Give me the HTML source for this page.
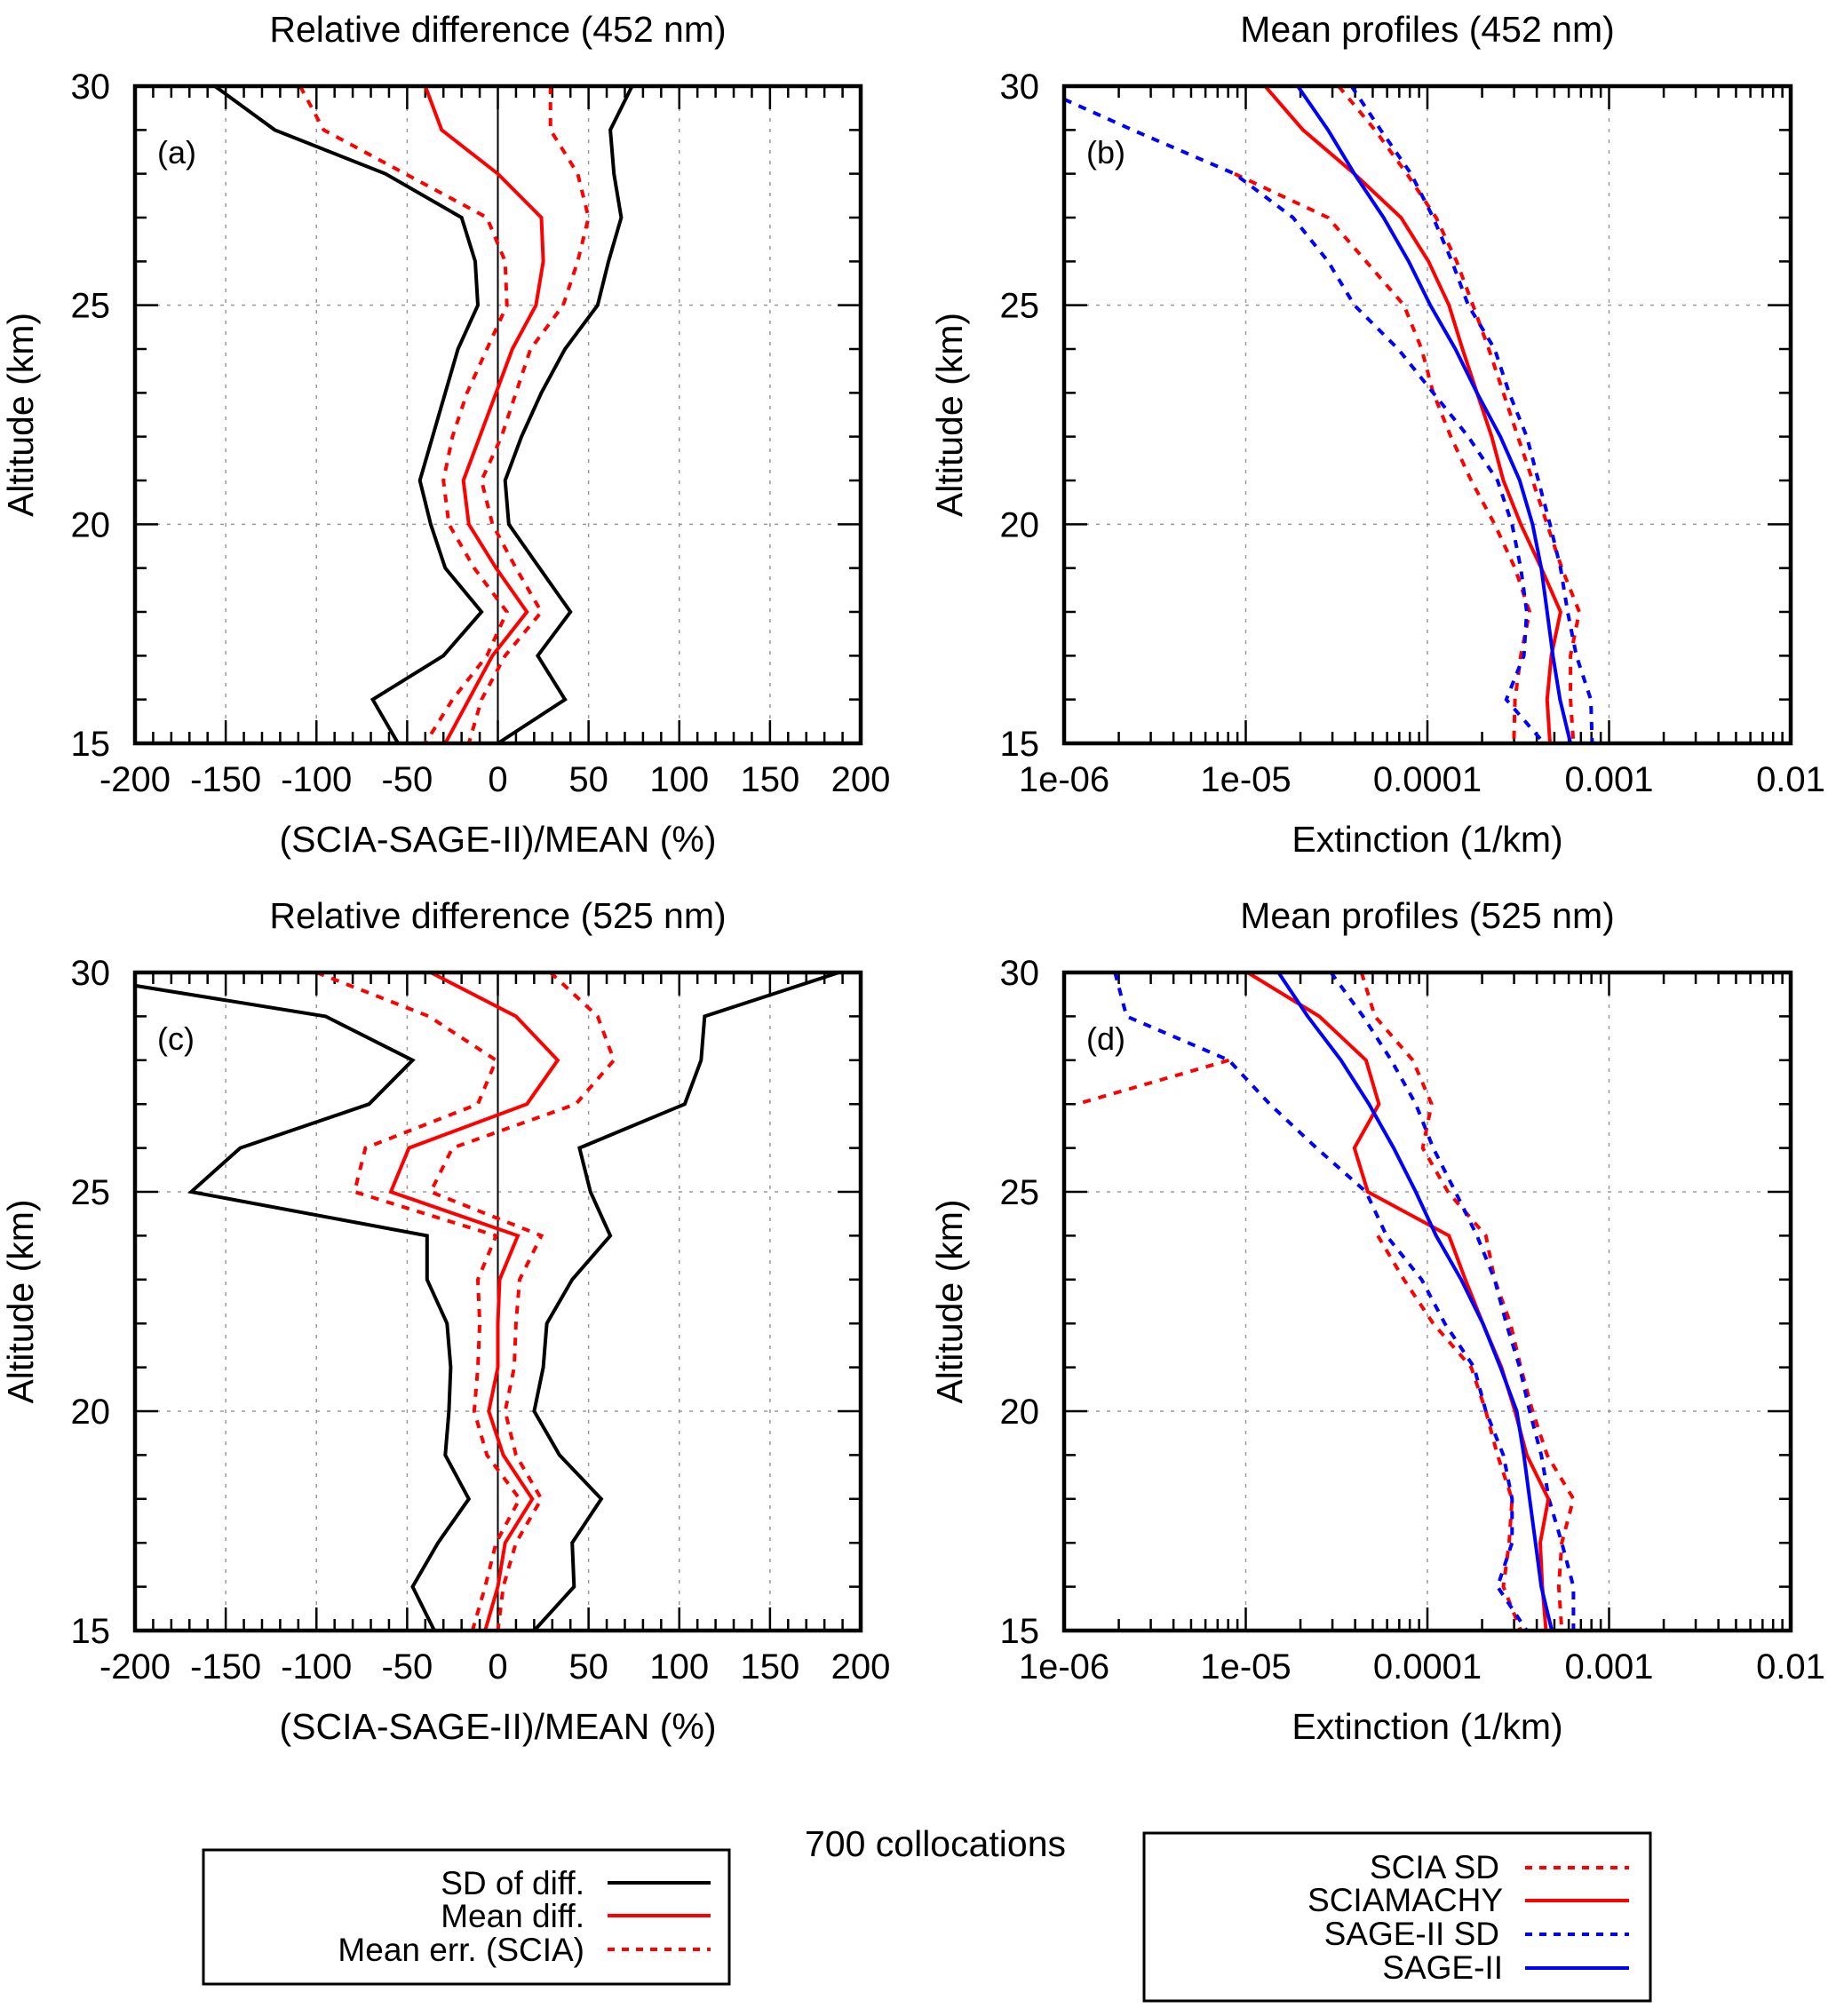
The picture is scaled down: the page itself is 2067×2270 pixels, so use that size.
<!DOCTYPE html>
<html><head><meta charset="utf-8">
<style>
html,body{margin:0;padding:0;background:#fff;}
svg{display:block;font-family:"Liberation Sans",Arial,sans-serif;}
</style></head>
<body>
<svg id="fig" width="2067" height="2270" viewBox="0 0 2067 2270" xmlns="http://www.w3.org/2000/svg">
<rect width="2067" height="2270" fill="#fff"/>
<g id="layer"></g>
<text x="1053" y="2090" font-size="41" text-anchor="middle">700 collocations</text>
<g>
<rect x="229" y="2083" width="592" height="151" fill="none" stroke="#000" stroke-width="3"/>
<text x="658" y="2133" font-size="37" text-anchor="end">SD of diff.</text>
<line x1="684" y1="2120" x2="800" y2="2120" stroke="#000" stroke-width="4"/>
<text x="658" y="2170" font-size="37" text-anchor="end">Mean diff.</text>
<line x1="684" y1="2157" x2="800" y2="2157" stroke="#f00" stroke-width="4"/>
<text x="658" y="2208" font-size="37" text-anchor="end">Mean err. (SCIA)</text>
<line x1="684" y1="2195" x2="800" y2="2195" stroke="#f00" stroke-width="4" stroke-dasharray="8,8"/>
</g>
<g>
<rect x="1288" y="2064" width="570" height="189" fill="none" stroke="#000" stroke-width="3"/>
<text x="1688" y="2115" font-size="37" text-anchor="end">SCIA SD</text>
<line x1="1717" y1="2103" x2="1834" y2="2103" stroke="#f00" stroke-width="4" stroke-dasharray="8,8"/>
<text x="1692" y="2152" font-size="37" text-anchor="end">SCIAMACHY</text>
<line x1="1717" y1="2140" x2="1834" y2="2140" stroke="#f00" stroke-width="4"/>
<text x="1688" y="2190" font-size="37" text-anchor="end">SAGE-II SD</text>
<line x1="1717" y1="2178" x2="1834" y2="2178" stroke="#00f" stroke-width="4" stroke-dasharray="8,8"/>
<text x="1692" y="2228" font-size="37" text-anchor="end">SAGE-II</text>
<line x1="1717" y1="2216" x2="1834" y2="2216" stroke="#00f" stroke-width="4"/>
</g>
</svg>
<script>
const altitudes=[30,29,28,27,26,25,24,23,22,21,20,19,18,17,16,15];
// panel (a) relative difference 452 nm (%)
const a_sdLeft=[-156,-123,-62,-20,-12.5,-11,-22,-29,-36,-43,-37,-29,-9,-30,-69,-55];
const a_sdRight=[74,62,64,68,61,55,37,24,13,4,6,23,40,22,37,0];
const a_mean=[-40,-31,0,24,25,21,8,-1,-10,-19,-16,-1,16,-3,-16,-29];
const a_errLeft=[-109,-96,-51,-6,4,5,-6,-17,-25,-30,-27,-13,5,-6,-25,-40];
const a_errRight=[29,29,44,50,44,36,18,10,2,-9,-3,10,24,4,-9,-16];
// panel (c) relative difference 525 nm (%)
const c_sdLeft=[-245,-95,-47,-71,-142,-169,-39,-39,-28,-26,-27,-29,-16,-33,-47,-35];
const c_sdRight=[188,114,112,103,45,51,62,41,27,25,20,34,57,41,42,20];
const c_mean=[-37,10,33,16,-49,-59,11,1,0,0,-5,3,19,4,0,-7];
const c_errLeft=[-100,-38,-1,-11,-73,-79,-1,-11,-10,-11,-13,-6,12,-1,-7,-14];
const c_errRight=[29,55,64,43,-25,-37,24,12,10,9,4,10,24,10,3,0];
// panel (b) log10 extinction 452 nm
const b_scia=[-4.894,-4.685,-4.402,-4.145,-3.994,-3.881,-3.807,-3.727,-3.646,-3.582,-3.486,-3.373,-3.267,-3.318,-3.341,-3.325];
const b_sage=[-4.714,-4.547,-4.402,-4.241,-4.103,-3.984,-3.846,-3.727,-3.598,-3.492,-3.421,-3.373,-3.341,-3.309,-3.270,-3.212];
const b_sciaSdHi=[-4.489,-4.289,-4.113,-3.952,-3.839,-3.749,-3.662,-3.582,-3.502,-3.421,-3.341,-3.260,-3.164,-3.212,-3.212,-3.196];
const b_sageSdHi=[-4.418,-4.257,-4.090,-3.968,-3.865,-3.775,-3.630,-3.550,-3.453,-3.389,-3.325,-3.267,-3.228,-3.180,-3.100,-3.093];
const b_sciaSdLo=[null,null,-5.061,-4.547,-4.338,-4.129,-4.032,-3.968,-3.871,-3.759,-3.630,-3.518,-3.437,-3.486,-3.518,-3.524];
const b_sageSdLo=[-6.161,-5.624,-5.061,-4.740,-4.547,-4.402,-4.161,-3.968,-3.775,-3.614,-3.534,-3.486,-3.453,-3.469,-3.566,-3.357];
// panel (d) log10 extinction 525 nm
const d_scia=[-4.990,-4.595,-4.338,-4.267,-4.402,-4.328,-3.881,-3.791,-3.695,-3.592,-3.518,-3.453,-3.334,-3.379,-3.367,-3.347];
const d_sage=[-4.820,-4.659,-4.476,-4.322,-4.186,-4.064,-3.952,-3.814,-3.695,-3.598,-3.508,-3.469,-3.437,-3.405,-3.373,-3.315];
const d_sciaSdHi=[-4.363,-4.289,-4.080,-3.977,-4.026,-3.887,-3.678,-3.630,-3.543,-3.486,-3.421,-3.341,-3.196,-3.260,-3.277,-3.260];
const d_sageSdHi=[-4.531,-4.354,-4.199,-4.064,-3.968,-3.846,-3.727,-3.630,-3.566,-3.492,-3.437,-3.373,-3.331,-3.260,-3.196,-3.196];
const d_sciaSdLo=[null,null,-5.093,-5.93,null,null,-4.273,-4.129,-3.968,-3.759,-3.678,-3.614,-3.534,-3.550,-3.582,-3.486];
const d_sageSdLo=[-5.720,-5.656,-5.093,-4.868,-4.611,-4.338,-4.225,-4.032,-3.904,-3.743,-3.678,-3.582,-3.534,-3.534,-3.614,-3.453];
const linTicks=[-200,-150,-100,-50,0,50,100,150,200];
const logTicks=["1e-06","1e-05","0.0001","0.001","0.01"];
const altTicks=[15,20,25,30];

const NS="http://www.w3.org/2000/svg";
const layer=document.getElementById('layer');
function mk(tag,attrs,parent){const e=document.createElementNS(NS,tag);for(const k in attrs)e.setAttribute(k,attrs[k]);(parent||layer).appendChild(e);return e;}

function panel(opt){
  const L=opt.x0,R=opt.x1,T=opt.y0,B=opt.y1;
  const g=mk('g',{});
  
  
  const xs=opt.log?(v=>L+(v-(-6))/4*(R-L)):(v=>L+(v+200)/400*(R-L));
  const ys=a=>T+(30-a)/15*(B-T);
  const cid='clip-'+opt.name;
  const cp=mk('clipPath',{id:cid},g);mk('rect',{x:L,y:T,width:R-L,height:B-T},cp);
  if(opt.log){for(let d=-5;d<=-3;d++){const gl=mk('line',{x1:xs(d),x2:xs(d),y1:T,y2:B,stroke:'#999','stroke-width':1.5,'stroke-dasharray':'4,8'},g);}}
  else{for(const t of linTicks){if(t===-200||t===200||t===0)continue;const gl=mk('line',{x1:xs(t),x2:xs(t),y1:T,y2:B,stroke:'#999','stroke-width':1.5,'stroke-dasharray':'4,8'},g);}}
  for(const a of [20,25]){const gl=mk('line',{x1:L,x2:R,y1:ys(a),y2:ys(a),stroke:'#999','stroke-width':1.5,'stroke-dasharray':'4,8'},g);}
  if(!opt.log){const z=mk('line',{x1:xs(0),x2:xs(0),y1:T,y2:B,stroke:'#000','stroke-width':2},g);}
  let tp='';
  for(let a=15;a<=30;a++){const len=(a%5===0)?26:13;const y=ys(a);tp+=`M${L},${y}h${len}M${R},${y}h${-len}`;}
  if(opt.log){for(let d=-6;d<-2;d++){for(let m=1;m<=9;m++){const x=xs(d+Math.log10(m));const len=m===1?26:13;tp+=`M${x},${B}v${-len}M${x},${T}v${len}`;}}tp+=`M${R},${B}v-26M${R},${T}v26`;}
  else{for(let v=-200;v<=200;v+=10){const x=xs(v);const len=(v%50===0)?26:13;tp+=`M${x},${B}v${-len}M${x},${T}v${len}`;}}
  const tk=mk('path',{d:tp,stroke:'#000','stroke-width':2.5,fill:'none'},g);
  
  for(const s of opt.series){
    let d='',pen=false;
    for(let i=0;i<altitudes.length;i++){const v=s.vals[i];if(v===null||v===undefined){pen=false;continue;}d+=(pen?'L':'M')+xs(v).toFixed(1)+','+ys(altitudes[i]).toFixed(1);pen=true;}
    const p=mk('path',{d:d,fill:'none',stroke:s.color,'stroke-width':4,'stroke-linejoin':'miter','clip-path':`url(#${cid})`},g);
    if(s.dash)p.setAttribute('stroke-dasharray','9,9');
    
    
  }
  const fr=mk('rect',{x:L,y:T,width:R-L,height:B-T,fill:'none',stroke:'#000','stroke-width':4.5},g);
  
  for(const a of altTicks){const t=mk('text',{x:L-28,y:ys(a)+14,'font-size':40,'text-anchor':'end'},g);t.textContent=a;}
  if(opt.log){logTicks.forEach((lab,i)=>{const t=mk('text',{x:xs(-6+i),y:B+54,'font-size':40,'text-anchor':'middle'},g);t.textContent=lab;});}
  else{for(const v of linTicks){const t=mk('text',{x:xs(v),y:B+54,'font-size':40,'text-anchor':'middle'},g);t.textContent=v;}}
  const cx=(L+R)/2;
  const ti=mk('text',{x:cx,y:T-50,'font-size':41,'text-anchor':'middle'},g);ti.textContent=opt.title;
  const xt=mk('text',{x:cx,y:B+122,'font-size':41,'text-anchor':'middle'},g);xt.textContent=opt.xlabel;
  const yx=L-115,yy=(T+B)/2;
  const yt=mk('text',{x:yx,y:yy,'font-size':41,'text-anchor':'middle',transform:`rotate(-90 ${yx} ${yy})`},g);yt.textContent='Altitude (km)';
  const pl=mk('text',{x:L+25,y:T+87,'font-size':36},g);pl.textContent=opt.label;
}
panel({name:'panel-a',x0:152,x1:969,y0:97,y1:837,log:false,title:'Relative difference (452 nm)',xlabel:'(SCIA-SAGE-II)/MEAN (%)',label:'(a)',
 series:[{name:'sd-diff-left',vals:a_sdLeft,color:'#000'},{name:'sd-diff-right',vals:a_sdRight,color:'#000'},{name:'mean-diff',vals:a_mean,color:'#f00'},{name:'mean-err-left',vals:a_errLeft,color:'#f00',dash:1},{name:'mean-err-right',vals:a_errRight,color:'#f00',dash:1}]});
panel({name:'panel-b',x0:1198,x1:2016,y0:97,y1:837,log:true,title:'Mean profiles (452 nm)',xlabel:'Extinction (1/km)',label:'(b)',
 series:[{name:'scia-sd-low',vals:b_sciaSdLo,color:'#f00',dash:1},{name:'scia-sd-high',vals:b_sciaSdHi,color:'#f00',dash:1},{name:'sage-sd-low',vals:b_sageSdLo,color:'#00f',dash:1},{name:'sage-sd-high',vals:b_sageSdHi,color:'#00f',dash:1},{name:'sciamachy-mean',vals:b_scia,color:'#f00'},{name:'sage-mean',vals:b_sage,color:'#00f'}]});
panel({name:'panel-c',x0:152,x1:969,y0:1095,y1:1836,log:false,title:'Relative difference (525 nm)',xlabel:'(SCIA-SAGE-II)/MEAN (%)',label:'(c)',
 series:[{name:'sd-diff-left',vals:c_sdLeft,color:'#000'},{name:'sd-diff-right',vals:c_sdRight,color:'#000'},{name:'mean-diff',vals:c_mean,color:'#f00'},{name:'mean-err-left',vals:c_errLeft,color:'#f00',dash:1},{name:'mean-err-right',vals:c_errRight,color:'#f00',dash:1}]});
panel({name:'panel-d',x0:1198,x1:2016,y0:1095,y1:1836,log:true,title:'Mean profiles (525 nm)',xlabel:'Extinction (1/km)',label:'(d)',
 series:[{name:'scia-sd-low',vals:d_sciaSdLo,color:'#f00',dash:1},{name:'scia-sd-high',vals:d_sciaSdHi,color:'#f00',dash:1},{name:'sage-sd-low',vals:d_sageSdLo,color:'#00f',dash:1},{name:'sage-sd-high',vals:d_sageSdHi,color:'#00f',dash:1},{name:'sciamachy-mean',vals:d_scia,color:'#f00'},{name:'sage-mean',vals:d_sage,color:'#00f'}]});
</script>
</body></html>
